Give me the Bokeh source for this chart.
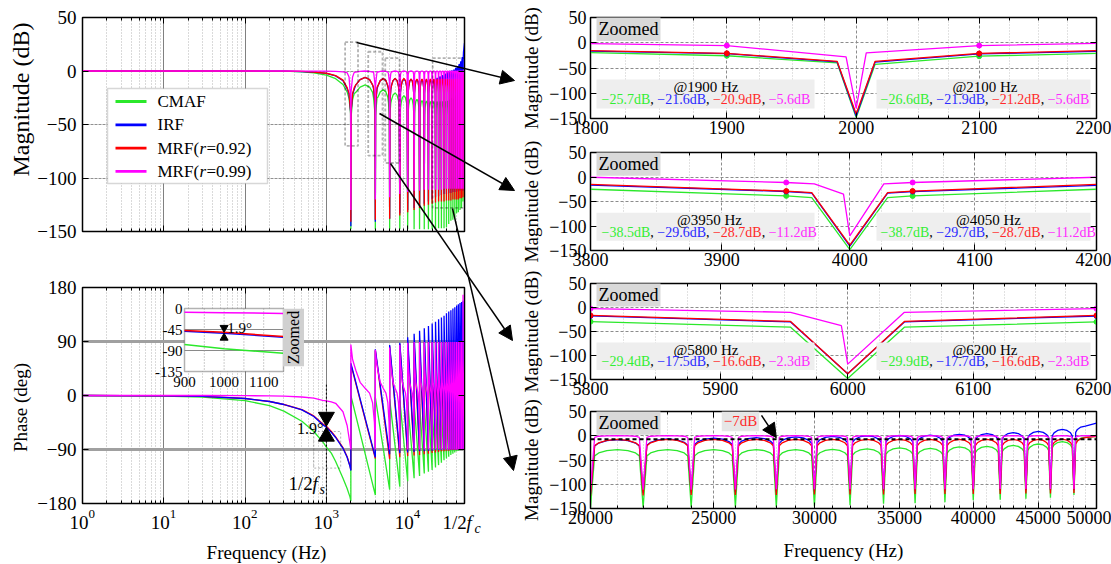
import math
from bokeh.plotting import figure
from bokeh.layouts import row, column
from bokeh.models import (Range1d, LogAxis, LinearAxis, FixedTicker, LinearScale, Grid, GridBox,
                          BoxAnnotation, Label, Arrow, NormalHead, Span)
from bokeh.embed import file_html
from bokeh.resources import INLINE

FONT = "Liberation Serif"

# ---------------------------------------------------------------- series
series = ["CMAF", "IRF", "MRF92", "MRF99"]
line_color = {"CMAF": "#2be82b", "IRF": "#0000ff", "MRF92": "#ff0000", "MRF99": "#ff00ff"}
text_color = {"CMAF": "#33ee33", "IRF": "#2a2aff", "MRF92": "#ff2a2a", "MRF99": "#ff2aff"}

# comb notches and end of the plotted band (Hz)
notch_hz = [2000, 4000, 6000, 8000, 10000, 12000, 14000, 16000, 18000, 20000, 22000, 24000,
            26000, 28000, 30000, 32000, 34000, 36000, 38000, 40000, 42000, 44000, 46000, 48000]
band_end_hz = 50000

# ---------------------------------------------------------------- magnitude (dB)
lobe_hz = [1, 100, 200, 300, 500, 700, 1000, 1300, 1600, 1800]
lobe_db = {
    "CMAF":  [0, -0.01, -0.06, -0.13, -0.9, -1.8, -3.9, -7.2, -12.6, -19.5],
    "IRF":   [0, 0, -0.04, -0.1, -0.5, -1.1, -2.3, -4.6, -9.0, -16.5],
    "MRF92": [0, 0, -0.04, -0.1, -0.4, -1.0, -2.1, -4.3, -8.5, -15.5],
    "MRF99": [0, 0, 0, 0, -0.05, -0.1, -0.2, -0.4, -0.8, -1.6],
}

# values quoted in the zoomed panels
mark_hz = [1900, 2100, 3950, 4050, 5800, 6200]
mark_db = {
    "CMAF":  [-25.7, -26.6, -38.5, -38.7, -29.4, -29.9],
    "IRF":   [-21.6, -21.9, -29.6, -29.7, -17.5, -17.7],
    "MRF92": [-20.9, -21.2, -28.7, -28.7, -16.6, -16.6],
    "MRF99": [-5.6, -5.6, -11.2, -11.2, -2.3, -2.3],
}

# vertices next to the first three notches
shoulder_hz = {
    "CMAF":  [1985, 2015, 2200, 3800, 3970, 4030, 4200, 5955, 6045],
    "IRF":   [1985, 2015, 2200, 3800, 3970, 4030, 4200, 5955, 6045],
    "MRF92": [1985, 2015, 2200, 3800, 3970, 4030, 4200, 5955, 6045],
    "MRF99": [1992, 2008, 2200, 3800, 3972, 3995, 4027, 4200, 5955, 5995, 6045],
}
shoulder_db = {
    "CMAF":  [-40, -43, -21, -25, -42, -42, -25, -41, -41],
    "IRF":   [-38, -38.5, -17, -16.5, -33, -33, -17, -30, -30],
    "MRF92": [-37, -37, -15.5, -15, -32, -32, -15, -29, -29],
    "MRF99": [-28, -20, -1.3, -0.5, -14, -35, -14, -0.5, -10, -38, -10],
}

# depth at each notch
notch_db = {
    "CMAF":  [-148, -148, -148, -148, -148, -148, -148, -148, -148, -148, -148, -147,
              -147, -147, -146, -143, -140, -139, -137, -133, -132, -130, -128, -122],
    "IRF":   [-145, -141, -138, -133, -130, -128, -126, -124, -122, -120, -118, -117,
              -116, -115, -115, -114, -114, -113, -113, -113, -112, -112, -112, -112],
    "MRF92": [-141, -139, -138, -135, -132, -130, -128, -126, -125, -124, -123, -122,
              -122, -122, -121, -121, -121, -120, -120, -120, -120, -119, -119, -118],
    "MRF99": [-130, -120, -118, -115, -113, -112, -112, -111, -111, -111, -111, -111,
              -111, -110, -110, -110, -110, -110, -110, -110, -110, -110, -110, -110],
}

# top of the arch that follows each notch
peak_db = {
    "CMAF":  [-13, -17.5, -20.5, -23, -25, -26.5, -27.5, -28, -28.5, -28.5, -28.5, -28.5,
              -28.5, -28.5, -28, -27, -25, -26, -23, -22, -20, -17, -12, -3],
    "IRF":   [-6, -7, -7, -7.5, -7.5, -8, -8, -8, -8, -8, -6.5, -5,
              -4, -2.5, -1.3, 0, 0.5, 1.3, 3, 4.5, 6.5, 9, 13, 20],
    "MRF92": [-6, -7, -7, -7, -7.5, -7.5, -7.5, -7.5, -7.5, -7.5, -7.5, -7.5,
              -7.5, -7.5, -7.5, -7.5, -7.5, -7.5, -7.5, -7.5, -7.5, -7.5, -7, -4],
    "MRF99": [0, 0, 0, 0, 0, 0, 0, 0, 0, 0, 0, 0,
              0, 0, 0, 0, 0, 0, 0, 0, 0, 0, 0, 0],
}
band_end_db = {"CMAF": -1, "IRF": 26, "MRF92": -1, "MRF99": 0}

# arch shape: position inside a notch gap and drop below the arch top (dB)
arch_pos = [0.075, 0.15, 0.3, 0.5, 0.7, 0.85, 0.925]
arch_drop = {
    "CMAF":  [13, 7, 2, 0, 2, 7, 13],
    "IRF":   [13, 7, 2, 0, 2, 7, 13],
    "MRF92": [13, 7, 2, 0, 2, 7, 13],
    "MRF99": [3.5, 1, 0.3, 0, 0.3, 1, 3.5],
}

# ---------------------------------------------------------------- phase (deg)
ph_lobe_hz = [1, 10, 30, 100, 200, 300, 500, 700, 900, 1000, 1150, 1300, 1600, 1800, 1950]
ph_lobe_deg = {
    "CMAF":  [0, -0.9, -2.6, -8.6, -17, -26, -43, -60, -77, -86, -96, -110, -138, -155, -169],
    "IRF":   [0, -0.5, -1.5, -5, -10, -15, -24, -35, -48.5, -53, -61.5, -70, -88, -103, -118],
    "MRF92": [0, -0.5, -1.5, -5, -10, -15, -23.5, -34, -47, -51.1, -60, -69, -87, -102, -117],
    "MRF99": [0, 0, 0, -0.3, -0.6, -1, -2.5, -4.5, -8, -9, -10.5, -13, -27, -50, -80],
}
# value just after each notch
ph_top_deg = {
    "CMAF":  [0, -3, -6, -8, -10, -12, -14, -16, -18, -20, -22, -24,
              -26, -28, -30, -32, -34, -36, -38, -40, -42, -44, -46, -48],
    "IRF":   [54, 77, 84, 88, 97, 103, 108, 112, 116, 120, 123, 127,
              130, 133, 137, 140, 142, 145, 147, 150, 152, 154, 156, 158],
    "MRF92": [52, 75, 82, 86, 88, 89, 89, 89, 89, 89, 89, 89,
              89, 89, 89, 89, 89, 89, 89, 89, 89, 89, 89, 89],
    "MRF99": [85, 76, 80, 84, 88, 89, 89, 89, 89, 89, 89, 89,
              89, 89, 89, 89, 89, 89, 89, 89, 89, 89, 89, 168],
}
# value just before each notch; last entry is the band end
ph_bot_deg = {
    "CMAF":  [-176, -166, -157, -152, -143, -138, -134, -130, -127, -124, -120, -116, -112,
              -108, -105, -102, -99, -97, -95, -93, -92, -91, -90, -90, -88],
    "IRF":   [-125, -103, -98, -96, -95, -94, -93, -93, -92, -92, -91, -91, -91,
              -90, -90, -90, -90, -90, -90, -90, -90, -90, -90, -90, -88],
    "MRF92": [-124, -105, -106, -103, -101, -100, -99, -98, -97, -96, -95, -94, -93,
              -93, -92, -92, -91, -91, -91, -91, -90, -90, -90, -90, -88],
    "MRF99": [-90, -90, -90, -90, -90, -90, -90, -90, -90, -90, -90, -90, -90,
              -90, -90, -90, -90, -90, -90, -90, -90, -90, -90, -90, -88],
}
# MRF(r=0.99) phase shape inside a notch gap
mrf99_ph_pos = [0.05, 0.15, 0.3, 0.5, 0.7, 0.85, 0.95]
mrf99_ph_deg = [60, 42, 22, 12, 4, -12, -45]

zoom_windows = [(1780, 2220), (3780, 4220), (5780, 6220)]


def magnitude_curve(s):
    pts = list(zip(lobe_hz, lobe_db[s]))
    pts += list(zip(mark_hz, mark_db[s]))
    pts += list(zip(shoulder_hz[s], shoulder_db[s]))
    pts += list(zip(notch_hz, notch_db[s]))
    edges = notch_hz + [band_end_hz]
    last = len(notch_hz) - 1
    for k in range(len(notch_hz)):
        f0, f1 = edges[k], edges[k + 1]
        for u, d in zip(arch_pos, arch_drop[s]):
            if k == last and u > 0.5:
                continue
            f = f0 + u * (f1 - f0)
            if any(a <= f <= b for a, b in zoom_windows):
                continue
            pts.append((f, peak_db[s][k] - d))
    pts.append((band_end_hz, band_end_db[s]))
    pts.sort()
    return [q[0] for q in pts], [q[1] for q in pts]


def phase_curve(s):
    xs, ys = list(ph_lobe_hz), list(ph_lobe_deg[s])
    edges = notch_hz + [band_end_hz]
    for k in range(len(notch_hz)):
        f0, f1 = edges[k], edges[k + 1]
        xs += [f0, f0]
        ys += [ph_bot_deg[s][k], ph_top_deg[s][k]]
        if s == "MRF99":
            for u, d in zip(mrf99_ph_pos, mrf99_ph_deg):
                xs.append(f0 + u * (f1 - f0))
                ys.append(d)
    xs.append(band_end_hz)
    ys.append(ph_bot_deg[s][-1])
    return xs, ys


# ---------------------------------------------------------------- page geometry
PAGE_W, PAGE_H = 1111, 564
LEFT_W, RIGHT_W = 517, 594
TL_H, BL_H = 243, 321
LFX = (82, 464)
TLFY = (17, 231)
BLFY = (287, 503)
R_H = [141, 131, 129, 163]
R_TOP = [17, 11, 11, 10]
R_BOT = [23, 22, 22, 56]
R_LEFT, R_RIGHT = 73, 15
R_FW = RIGHT_W - R_LEFT - R_RIGHT

DEC_PX = (LFX[1] - LFX[0]) / math.log10(50000)


def lx(px):
    return 10 ** ((px - LFX[0]) / DEC_PX)


def tly(py):
    return 50 - (py - TLFY[0]) * 200 / (TLFY[1] - TLFY[0])


def bly(py):
    return 180 - (py - BLFY[0]) * 360 / (BLFY[1] - BLFY[0])


def make_fig(w, h, xr, yr, x_log, borders):
    left, right, top, bottom = borders
    p = figure(width=w, height=h, x_range=xr, y_range=yr,
               x_axis_type="log" if x_log else "linear",
               x_axis_location=None, y_axis_location=None,
               output_backend="svg", toolbar_location=None,
               min_border_left=left, min_border_right=right,
               min_border_top=top, min_border_bottom=bottom)
    p.center = [r for r in p.center if not isinstance(r, Grid)]
    p.outline_line_color = "black"
    p.outline_line_width = 1.5
    p.background_fill_color = "white"
    p.border_fill_color = "white"
    return p


def style_axis(ax, show, size):
    ax.axis_line_color = "black"
    ax.major_tick_in = 6
    ax.major_tick_out = 0
    ax.minor_tick_in = 3
    ax.minor_tick_out = 0
    ax.major_tick_line_color = "black"
    ax.minor_tick_line_color = "black"
    ax.major_label_text_font = FONT
    ax.major_label_text_color = "black"
    ax.axis_label_text_font = FONT
    ax.axis_label_text_font_style = "normal"
    ax.axis_label_text_color = "black"
    if show:
        ax.major_label_text_font_size = size
    else:
        ax.major_label_text_font_size = "1px"
        ax.major_label_text_alpha = 0
        ax.major_label_standoff = 0


def add_axes(p, xticks, xminor, yticks, x_over, tick_size, y_standoff,
             xlabel=None, xlabel_size="19px", xlabel_standoff=8):
    bx = LogAxis(ticker=FixedTicker(ticks=xticks, minor_ticks=xminor))
    style_axis(bx, x_over is not None, tick_size)
    if x_over is not None:
        bx.major_label_overrides = x_over
        bx.major_label_standoff = 2
    if xlabel:
        bx.axis_label = xlabel
        bx.axis_label_text_font_size = xlabel_size
        bx.axis_label_standoff = xlabel_standoff
    p.add_layout(bx, "below")
    tx = LogAxis(ticker=FixedTicker(ticks=xticks, minor_ticks=xminor))
    style_axis(tx, False, tick_size)
    p.add_layout(tx, "above")
    ly = LinearAxis(ticker=FixedTicker(ticks=yticks))
    style_axis(ly, True, tick_size)
    ly.major_label_standoff = y_standoff
    p.add_layout(ly, "left")
    ry = LinearAxis(ticker=FixedTicker(ticks=yticks))
    style_axis(ry, False, tick_size)
    p.add_layout(ry, "right")


def add_grid(p, dim, ticks, minor, color, dash, width, mcolor=None, mdash=None):
    g = Grid(dimension=dim, ticker=FixedTicker(ticks=ticks, minor_ticks=minor))
    g.grid_line_color = color
    g.grid_line_dash = dash
    g.grid_line_width = width
    if mcolor:
        g.minor_grid_line_color = mcolor
        g.minor_grid_line_dash = mdash
        g.minor_grid_line_width = 1
    p.add_layout(g)


def text(p, x, y, s, size, color="black", align="left", baseline="middle", style="normal",
         angle=0, bg=None, **kw):
    lab = Label(x=x, y=y, text=s, text_font=FONT, text_font_size=size, text_color=color,
                text_align=align, text_baseline=baseline, text_font_style=style, angle=angle, **kw)
    if bg:
        lab.background_fill_color = bg
        lab.background_fill_alpha = 1
        lab.padding = 2
    p.add_layout(lab)
    return lab


def line_ann(p, x0, y0, x1, y1, head=False, width=1.5, dash="solid", color="black"):
    end = NormalHead(size=14, fill_color="black", line_color="black", line_width=1) if head else None
    p.add_layout(Arrow(x_start=x0, y_start=y0, x_end=x1, y_end=y1, end=end,
                       line_width=width, line_color=color, line_dash=dash))


# Times-metric advance widths (em) for the value strings
ADV = {"\u2212": 0.564, ".": 0.25, "d": 0.5, "B": 0.667, ",": 0.25, " ": 0.25}


def text_width(s, size_px):
    return sum(ADV.get(ch, 0.5) for ch in s) * size_px


decades = [1, 10, 100, 1000, 10000]
log_minor = [m * d for d in [1, 10, 100, 1000] for m in range(2, 10)] + [20000, 30000, 40000]

# ---------------------------------------------------------------- magnitude (left, top)
tl = make_fig(LEFT_W, TL_H, Range1d(1, 50000), Range1d(-150, 50), True,
              (LFX[0], LEFT_W - LFX[1], TLFY[0], TL_H - TLFY[1]))
add_grid(tl, 0, [10, 100, 1000, 10000], log_minor, "#808080", "solid", 1, "#b4b4b4", "1 2")
add_grid(tl, 1, [0, -50, -100], [], "#909090", "3 1", 1)
add_axes(tl, decades, log_minor, [50, 0, -50, -100, -150], None, "19px", 6)
for s in series:
    xs, ys = magnitude_curve(s)
    tl.line(xs, ys, line_color=line_color[s], line_width=1.3)

# legend
tl.add_layout(BoxAnnotation(left=lx(107), right=lx(267), top=tly(88), bottom=tly(183),
                            fill_color="white", fill_alpha=1, line_color="#7a7a7a", line_width=1.5))
legend_rows = [("CMAF", "CMAF", None), ("IRF", "IRF", None),
               ("MRF92", "MRF(", "=0.92)"), ("MRF99", "MRF(", "=0.99)")]
for i, (s, t0, t1) in enumerate(legend_rows):
    yy = tly(101 + i * 23.3)
    line_ann(tl, lx(115), yy, lx(146), yy, width=2.8, color=line_color[s])
    text(tl, lx(157), yy, t0, "17px")
    if t1:
        text(tl, lx(199), yy, "r", "17px", style="italic")
        text(tl, lx(206), yy, t1, "17px")

# zoom markers
zoom_boxes = [(1700, 2450, 27, -70), (3270, 4900, 18, -79), (5300, 7950, 12, -86), (20300, 51500, 12, -128)]
for a, b, c, d in zoom_boxes:
    tl.add_layout(BoxAnnotation(left=a, right=b, top=c, bottom=d, fill_alpha=0,
                                line_color="black", line_dash="3 2", line_width=1.8))

# ---------------------------------------------------------------- phase (left, bottom)
bl = make_fig(LEFT_W, BL_H, Range1d(1, 50000), Range1d(-180, 180), True,
              (LFX[0], LEFT_W - LFX[1], BLFY[0] - TL_H, TL_H + BL_H - BLFY[1]))
add_grid(bl, 0, [10, 100, 1000, 10000], log_minor, "#808080", "solid", 1, "#b4b4b4", "1 2")
add_grid(bl, 1, [90, -90], [], "#a0a0a0", "solid", 3)
add_axes(bl, decades, log_minor, [180, 90, 0, -90, -180], None, "19px", 6)
for s in ["CMAF", "MRF92", "IRF", "MRF99"]:
    xs, ys = phase_curve(s)
    bl.line(xs, ys, line_color=line_color[s], line_width=1.3)

# half sampling frequency marker
line_ann(bl, 1000, 18, 1000, -180, width=1, dash="2 2")
bl.add_layout(BoxAnnotation(left=700, right=1500, top=-60, bottom=-121, fill_alpha=0,
                            line_color="black", line_dash="2 2", line_width=1))
text(bl, lx(288), bly(483), "1/2", "19px")
text(bl, lx(312), bly(483), "f", "19px", style="italic")
text(bl, lx(319), bly(489), "s", "14px", style="italic")

deg_px = 360 / (BLFY[1] - BLFY[0])
red_1k = ph_lobe_deg["MRF92"][ph_lobe_hz.index(1000)]
blue_1k = ph_lobe_deg["IRF"][ph_lobe_hz.index(1000)]
bl.scatter([1000], [red_1k + 0.577 * 16 * deg_px], marker="inverted_triangle", size=16, color="black")
bl.scatter([1000], [blue_1k - 0.577 * 16 * deg_px], marker="triangle", size=16, color="black")
text(bl, lx(323), bly(428), "1.9°", "16px", align="right")

# inset (zoom around 1 kHz)
IN_PX = (184, 283, 308, 371)
hz_px = (1150 - 900) / (IN_PX[1] - IN_PX[0])
dg_px = 135 / (IN_PX[3] - IN_PX[2])
ix0 = 900 - (IN_PX[0] - LFX[0]) * hz_px
iy_top = 0 + (IN_PX[2] - BLFY[0]) * dg_px
bl.extra_x_ranges = {"ix": Range1d(ix0, ix0 + (LFX[1] - LFX[0]) * hz_px)}
bl.extra_y_ranges = {"iy": Range1d(iy_top - (BLFY[1] - BLFY[0]) * dg_px, iy_top)}
bl.extra_x_scales = {"ix": LinearScale()}
bl.add_layout(BoxAnnotation(left=900, right=1150, top=0, bottom=-135, x_range_name="ix", y_range_name="iy",
                            fill_color="white", fill_alpha=1, line_color="black", line_width=1.5,
                            level="underlay"))
bl.segment(x0=[900, 900], y0=[-45, -90], x1=[1150, 1150], y1=[-45, -90], x_range_name="ix",
           y_range_name="iy", line_color="#8a8a8a", line_width=1)
bl.segment(x0=[950, 1000, 1050, 1100], y0=[0, 0, 0, 0], x1=[950, 1000, 1050, 1100],
           y1=[-135, -135, -135, -135], x_range_name="ix", y_range_name="iy",
           line_color="#9a9a9a", line_dash="1 2", line_width=1)
for s in ["CMAF", "IRF", "MRF92", "MRF99"]:
    xs, ys = phase_curve(s)
    sel = [(x, y) for x, y in zip(xs, ys) if 900 <= x <= 1150]
    bl.line([q[0] for q in sel], [q[1] for q in sel], x_range_name="ix", y_range_name="iy",
            line_color=line_color[s], line_width=1.5)
bl.scatter([1000], [red_1k + 0.577 * 8 * dg_px], marker="inverted_triangle", size=8, color="black",
           x_range_name="ix", y_range_name="iy")
bl.scatter([1000], [blue_1k - 0.577 * 8 * dg_px], marker="triangle", size=8, color="black",
           x_range_name="ix", y_range_name="iy")
text(bl, 1008, -42, "1.9°", "15px", x_range_name="ix", y_range_name="iy")
for v in [0, -45, -90, -135]:
    text(bl, 900 - 2 * hz_px, v, str(v), "15px", align="right", x_range_name="ix", y_range_name="iy")
for v in [900, 1000, 1100]:
    text(bl, v, -135 - 5 * dg_px, str(v), "15px", align="center", baseline="top",
         x_range_name="ix", y_range_name="iy")
text(bl, 900 + (293 - IN_PX[0]) * hz_px, -(337 - IN_PX[2]) * dg_px, "Zoomed", "16px",
     align="center", angle=math.pi / 2, bg="#d0d0d0", x_range_name="ix", y_range_name="iy")

# ---------------------------------------------------------------- zoomed panels (right)
panel_range = [(1800, 2200), (3800, 4200), (5800, 6200), (20000, 50000)]
panel_ticks = [[1800, 1900, 2000, 2100, 2200], [3800, 3900, 4000, 4100, 4200],
               [5800, 5900, 6000, 6100, 6200],
               [20000, 25000, 30000, 35000, 40000, 45000, 50000]]
panel_minor_step = [25, 25, 25, 1000]

box_px = [(6, 224), (286, 500)]      # value boxes, offsets from the frame's left edge
text_px = [11, 290]
VAL_SIZE = 14


def fxp(lo, hi, px):
    return lo * (hi / lo) ** (px / R_FW)


rfigs = []
for i in range(4):
    lo, hi = panel_range[i]
    p = make_fig(RIGHT_W, R_H[i], Range1d(lo, hi), Range1d(-150, 50), True,
                 (R_LEFT, R_RIGHT, R_TOP[i], R_BOT[i]))
    step = panel_minor_step[i]
    minor = [v for v in range(lo, hi + 1, step) if v not in panel_ticks[i]]
    add_grid(p, 0, panel_ticks[i][1:-1], minor, "#8c8c8c", "3 2", 1, "#c4c4c4", "1 2")
    add_grid(p, 1, [0, -50, -100], [], "#8c8c8c", "3 2", 1)
    add_axes(p, panel_ticks[i], minor, [50, 0, -50, -100, -150],
             {t: str(t) for t in panel_ticks[i]}, "18px", 4,
             xlabel="Frequency (Hz)" if i == 3 else None, xlabel_size="19px", xlabel_standoff=13)
    for s in series:
        xs, ys = magnitude_curve(s)
        p.line(xs, ys, line_color=line_color[s], line_width=1.3)
    text(p, fxp(lo, hi, 6), 27, "Zoomed", "18px", bg="#d9d9d9")
    if i < 3:
        for j in range(2):
            m = 2 * i + j
            a, b = box_px[j]
            p.add_layout(BoxAnnotation(left=fxp(lo, hi, a), right=fxp(lo, hi, b), top=-73, bottom=-130,
                                       fill_color="#eeeeee", fill_alpha=1, line_alpha=0))
            pieces = []
            for k, s in enumerate(series):
                pieces.append((("%.1fdB" % mark_db[s][m]).replace("-", "\u2212"), text_color[s]))
                if k < 3:
                    pieces.append((", ", "black"))
            total = sum(text_width(t, VAL_SIZE) for t, _ in pieces)
            text(p, fxp(lo, hi, text_px[j] + total / 2), -88, "@%d Hz" % mark_hz[m], "15px",
                 align="center")
            acc = text_px[j]
            for t, c in pieces:
                text(p, fxp(lo, hi, acc), -113, t, "%dpx" % VAL_SIZE, color=c)
                acc += text_width(t, VAL_SIZE)
            for s in series:
                p.scatter([mark_hz[m]], [mark_db[s][m]], marker="circle", size=5,
                          color=line_color[s])
    else:
        p.add_layout(Span(location=-7, dimension="width", line_color="black",
                          line_dash="4 3", line_width=2))
        text(p, fxp(lo, hi, 150), 30, "\u22127dB", "15px", color="#ff2a2a", align="center", bg="#e6e6e6")
        line_ann(p, fxp(lo, hi, 171), 42, 28000, -4, head=True, width=1.5)
    rfigs.append(p)

main = row(column(tl, bl), column(*rfigs))

# ---------------------------------------------------------------- page overlay (page pixels)
ov = figure(width=PAGE_W, height=PAGE_H, x_range=Range1d(0, PAGE_W), y_range=Range1d(PAGE_H, 0),
            x_axis_location=None, y_axis_location=None, output_backend="svg", toolbar_location=None,
            min_border_left=0, min_border_right=0, min_border_top=0, min_border_bottom=0)
ov.center = [r for r in ov.center if not isinstance(r, Grid)]
ov.outline_line_color = None
ov.background_fill_color = None
ov.border_fill_color = None

# leader arrows from the zoom boxes to the zoomed panels
arrows_px = [((356, 42), (514, 80)), ((379, 113), (514, 190)),
             ((390, 163), (512, 340)), ((452, 208), (513, 470))]
for (x0, y0), (x1, y1) in arrows_px:
    line_ann(ov, x0, y0, x1, y1, head=True)

# axis titles
text(ov, 20, 99, "Magnitude (dB)", "24px", align="center", angle=math.pi / 2)
text(ov, 20, 407, "Phase (deg)", "19px", align="center", angle=math.pi / 2)
text(ov, 266, 552, "Frequency (Hz)", "19px", align="center")
top_acc = 0
for i in range(4):
    fy0 = top_acc + R_TOP[i]
    fy1 = top_acc + R_H[i] - R_BOT[i]
    text(ov, 531, (fy0 + fy1) / 2, "Magnitude (dB)", "19px", align="center", angle=math.pi / 2)
    top_acc += R_H[i]

# decade labels of the phase plot's frequency axis
for d in range(5):
    tpx = LFX[0] + d * DEC_PX
    text(ov, tpx + 6, 522, "10", "19px", align="right")
    text(ov, tpx + 6, 513, str(d), "13px")
text(ov, 442, 522, "1/2", "19px")
text(ov, 466, 522, "f", "19px", style="italic")
text(ov, 474, 528, "c", "14px", style="italic")

page = GridBox(children=[(main, 0, 0), (ov, 0, 0)])
open("out.html", "w").write(file_html(page, INLINE, title="Frequency responses"))
